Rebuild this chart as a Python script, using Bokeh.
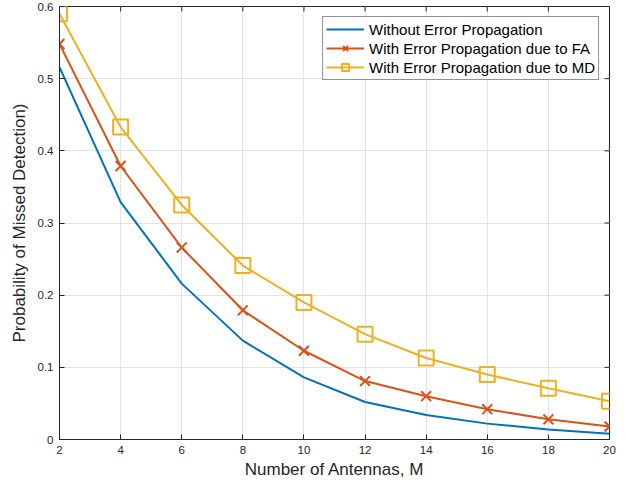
import math
from bokeh.plotting import figure
from bokeh.models import FixedTicker, CustomJSTickFormatter, Range1d
from bokeh.embed import file_html
from bokeh.resources import INLINE

antennas = [2, 4, 6, 8, 10, 12, 14, 16, 18, 20]
without_ep = [0.516, 0.329, 0.216, 0.137, 0.086, 0.052, 0.034, 0.022, 0.014, 0.008]
with_ep_fa = [0.548, 0.379, 0.266, 0.179, 0.123, 0.081, 0.060, 0.042, 0.028, 0.018]
with_ep_md = [0.590, 0.433, 0.325, 0.241, 0.190, 0.146, 0.113, 0.090, 0.071, 0.053]
x_ticks = [2, 4, 6, 8, 10, 12, 14, 16, 18, 20]
y_ticks = [0, 0.1, 0.2, 0.3, 0.4, 0.5, 0.6]

FONT = "Liberation Sans"
TXT = "#262626"
BLUE, RED, YEL = "#0072BD", "#D95319", "#EDB120"

X0, X1 = x_ticks[0], x_ticks[-1]
Y0, Y1 = y_ticks[0], y_ticks[-1]

p = figure(width=630, height=489, output_backend="svg", toolbar_location=None,
           x_range=Range1d(X0, X1), y_range=Range1d(Y0, Y1),
           min_border_left=59, min_border_right=21, min_border_top=6, min_border_bottom=50)
p.outline_line_color = TXT
p.outline_line_width = 1

xax = p.below[0]
yax = p.left[0]
fmt = CustomJSTickFormatter(code="return String(Math.round(tick*10)/10);")
for ax in [xax, yax]:
    ax.axis_line_color = TXT
    ax.major_tick_line_color = TXT
    ax.major_tick_in = 5
    ax.major_tick_out = 0
    ax.minor_tick_line_color = None
    ax.major_label_text_font = FONT
    ax.major_label_text_font_size = "11.5px"
    ax.major_label_text_color = TXT
    ax.axis_label_text_font = FONT
    ax.axis_label_text_font_size = "17px"
    ax.axis_label_text_font_style = "normal"
    ax.axis_label_text_color = TXT
xax.ticker = FixedTicker(ticks=x_ticks)
yax.ticker = FixedTicker(ticks=y_ticks)
yax.formatter = fmt
xax.major_label_standoff = 6
yax.major_label_standoff = 6
xax.axis_label = "Number of Antennas, M"
yax.axis_label = "Probability of Missed Detection)"
xax.axis_label_standoff = 3
yax.axis_label_standoff = 6

p.xgrid.ticker = FixedTicker(ticks=x_ticks)
p.ygrid.ticker = FixedTicker(ticks=y_ticks)
p.xgrid.grid_line_color = "#e3e3e3"
p.ygrid.grid_line_color = "#e3e3e3"

# inward ticks on top and right edges (box style)
p.ray(x=x_ticks, y=[Y1] * len(x_ticks), angle=-math.pi / 2, length=5,
      length_units="screen", line_color=TXT, line_width=1)
p.ray(x=[X1] * len(y_ticks), y=y_ticks, angle=math.pi, length=5,
      length_units="screen", line_color=TXT, line_width=1)

p.line(antennas, without_ep, color=BLUE, line_width=2, legend_label="Without Error Propagation")
p.line(antennas, with_ep_fa, color=RED, line_width=2, legend_label="With Error Propagation due to FA")
p.scatter(antennas, with_ep_fa, marker="x", size=14, line_color=RED, line_width=2,
          legend_label="With Error Propagation due to FA")
p.line(antennas, with_ep_md, color=YEL, line_width=2, legend_label="With Error Propagation due to MD")
p.scatter(antennas, with_ep_md, marker="square", size=15, line_color=YEL, fill_color=None,
          line_width=2, legend_label="With Error Propagation due to MD")

lg = p.legend[0]
lg.location = "top_right"
lg.margin = 10
lg.border_line_color = TXT
lg.border_line_width = 1
lg.background_fill_alpha = 1
lg.label_text_font = FONT
lg.label_text_font_size = "15px"
lg.label_text_color = "#000000"
lg.glyph_width = 38
lg.glyph_height = 18
lg.spacing = 1
lg.padding = 3
lg.label_standoff = 5
lg.label_height = 18

out = file_html(p, INLINE)
open("out.html", "w").write(out)
